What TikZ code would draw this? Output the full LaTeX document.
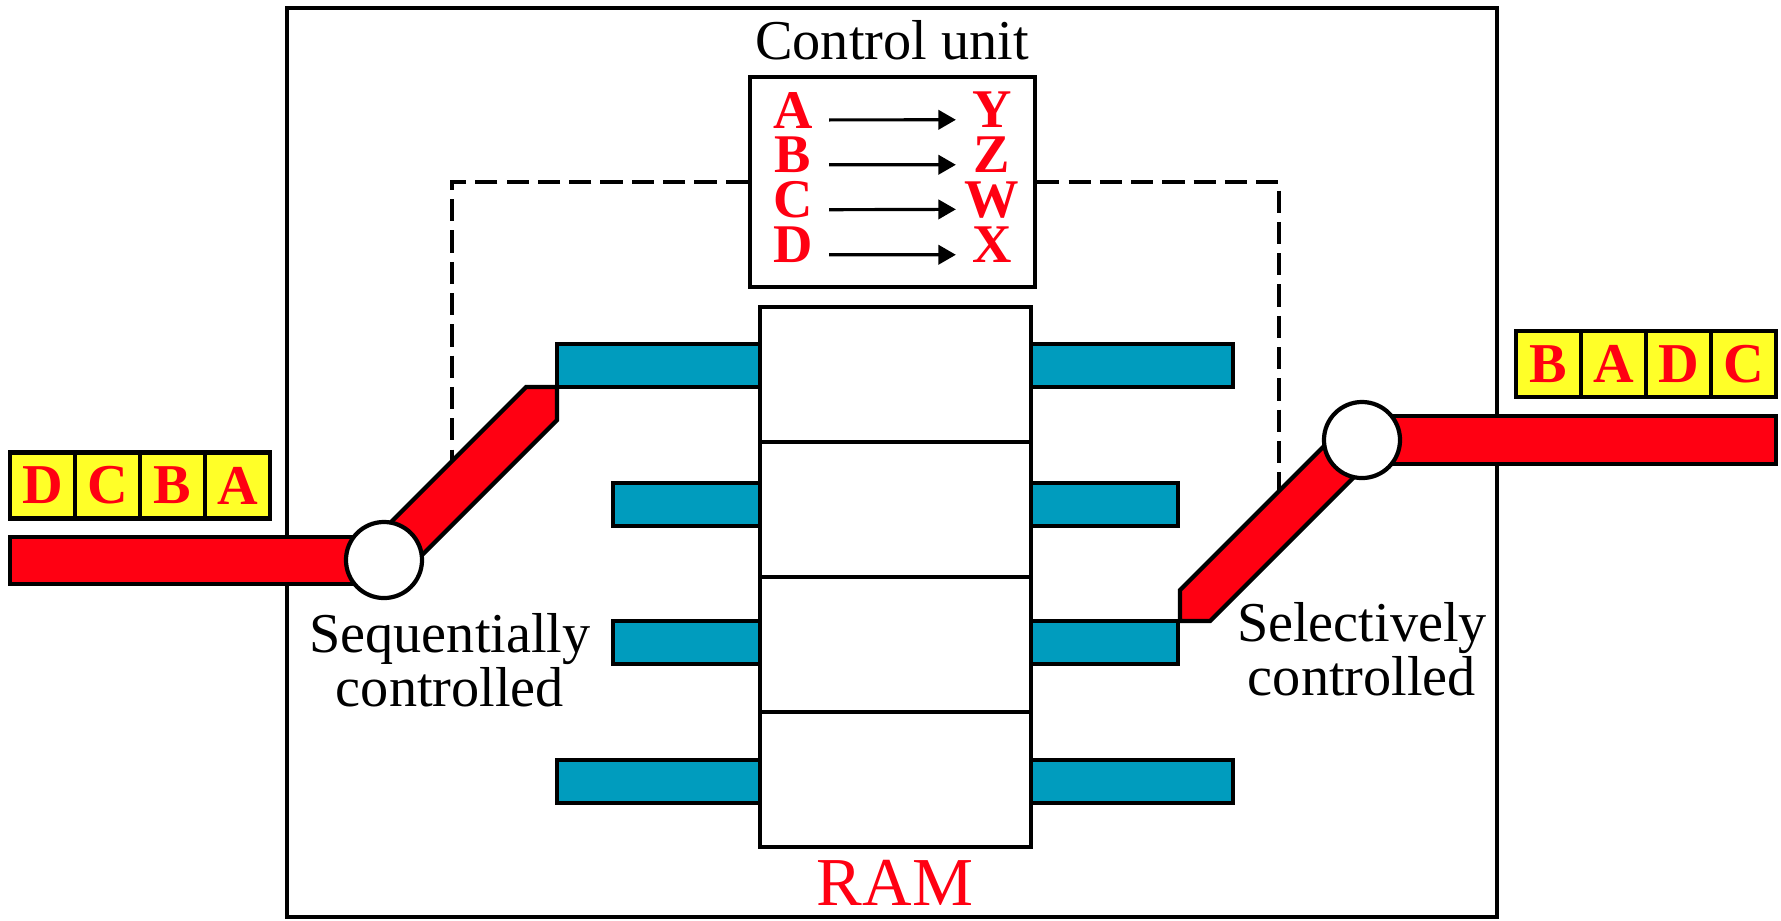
\documentclass[tikz,border=0pt]{standalone}
\usepackage{fontspec}
\setmainfont{Liberation Serif}
\usetikzlibrary{arrows.meta,positioning}
\definecolor{busred}{RGB}{255,0,18}
\definecolor{portblue}{RGB}{0,156,190}
\definecolor{cellyellow}{RGB}{255,255,40}

\tikzset{
  cell/.style={draw, fill=cellyellow, outer sep=0pt, inner sep=0pt, minimum width=0.65cm, minimum height=0.66cm, text=busred, font=\fontsize{16}{16}\selectfont\bfseries},
  mapletter/.style={inner sep=0pt, minimum width=0.68cm, text=busred, font=\fontsize{15.5}{15.5}\selectfont\bfseries},
  maparrow/.style={line width=0.9pt, -{Triangle[length=5pt,width=5.5pt]}},
  ramcell/.style={draw, fill=white, outer sep=0pt, minimum width=2.71cm, minimum height=1.35cm},
  switchpt/.style={draw, circle, fill=white, inner sep=0pt, minimum size=0.76cm},
  port/.style={draw, fill=portblue},
  bus/.style={draw, fill=busred},
  ctrlline/.style={dash pattern=on 6.3pt off 2.6pt},
  lbl/.style={align=center, inner sep=0pt, font=\fontsize{16}{12.8}\selectfont}
}

\begin{document}
\begin{tikzpicture}[x=0.01cm, y=-0.01cm, line width=1.2pt]
\useasboundingbox (0,0) rectangle (1781,920);

    % Outer frame of the switch
    \node[draw, minimum width=12.10cm, minimum height=9.09cm] (switch) at (892,462.5) {};

    % Control unit
    \node[draw, fill=white, minimum width=2.85cm, minimum height=2.10cm] (ctrl) at (892.5,182) {};
    \node[font=\fontsize{16}{16}\selectfont] (ctrltitle) at (892,40) {Control unit};

    % Control lines to the two switches
    \coordinate (seqtap) at (452,462);
    \coordinate (seltap) at (1279,490);
    \draw[ctrlline] (ctrl.west) -| (seqtap);
    \draw[ctrlline] (ctrl.east) -| (seltap);

    % Ports of the memory
    \foreach \y/\l/\r in {344/557/1233, 483/613/1178, 621/613/1178, 760/557/1233} {
        \draw[port] (\l,\y) rectangle (760,\y+43);
        \draw[port] (1031,\y) rectangle (\r,\y+43);
    }

    % Input line, sequential switch
    \draw[bus] (10,537) rectangle (384,584);
    \draw[bus] (557,387) -- (526,387) -- (369,544) -- (400,577) -- (557,420) -- cycle;
    \node[switchpt] (seqsw) at (384,560) {};

    % Output line, selective switch
    \draw[bus] (1362,416) rectangle (1776,464);
    \draw[bus] (1180,621) -- (1180,590) -- (1347,423) -- (1377,454) -- (1210,621) -- cycle;
    \node[switchpt] (selsw) at (1362,440) {};

    % RAM cells
    \node[ramcell] (ram1) at (895.5,374.5) {};
    \node[ramcell, below=0pt of ram1] (ram2) {};
    \node[ramcell, below=0pt of ram2] (ram3) {};
    \node[ramcell, below=0pt of ram3] (ram4) {};
    \node[inner sep=0pt, text=busred, font=\fontsize{19.5}{19.5}\selectfont] (ramlbl) at (895,883) {RAM};

    % Mapping table
    \foreach \a/\b/\y in {A/Y/110, B/Z/155, C/W/200, D/X/245} {
        \node[mapletter] (in\a) at (793,\y) {\a};
        \node[mapletter] (out\a) at (992,\y) {\b};
        \draw[maparrow] ([yshift=2.3pt]in\a.base east) -- ([yshift=2.3pt]out\a.base west);
    }

    % Incoming cells
    \node[cell] (qin1) at (42.5,485.5) {D};
    \node[cell, right=0pt of qin1] (qin2) {C};
    \node[cell, right=0pt of qin2] (qin3) {B};
    \node[cell, right=0pt of qin3] (qin4) {A};

    % Outgoing cells
    \node[cell] (qout1) at (1548.5,364) {B};
    \node[cell, right=0pt of qout1] (qout2) {A};
    \node[cell, right=0pt of qout2] (qout3) {D};
    \node[cell, right=0pt of qout3] (qout4) {C};

    % Switch labels
    \node[lbl, anchor=north] (seqlbl) at (450,611) {Sequentially\\controlled};
    \node[lbl, anchor=north] (sellbl) at (1362,600) {Selectively\\controlled};

\end{tikzpicture}
\end{document}
